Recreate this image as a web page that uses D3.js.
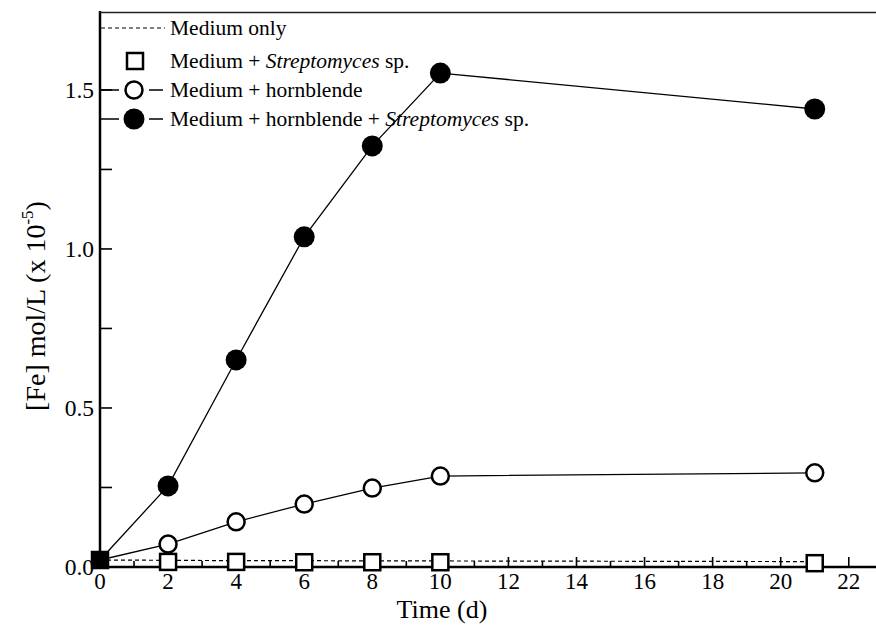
<!DOCTYPE html>
<html>
<head>
<meta charset="utf-8">
<script src="https://cdn.jsdelivr.net/npm/d3@7"></script>
<style>
  body { margin: 0; background: #fff; }
</style>
</head>
<body>
<div id="chart"></div>
<script>
// Days sampled
const days = [0, 2, 4, 6, 8, 10, 21];

// [Fe] in mol/L x 10^-5
const mediumOnly = [0.022, 0.021, 0.020, 0.020, 0.019, 0.019, 0.017];
const mediumStrep = [0.022, 0.016, 0.016, 0.015, 0.015, 0.015, 0.012];
const mediumHorn = [0.022, 0.072, 0.142, 0.198, 0.248, 0.286, 0.296];
const mediumHornStrep = [0.022, 0.255, 0.651, 1.038, 1.324, 1.553, 1.44];

const xTicks = [0, 2, 4, 6, 8, 10, 12, 14, 16, 18, 20, 22];
const yTicks = [0, 0.5, 1.0, 1.5];

const legendLabels = ["Medium only", "Medium + Streptomyces sp.", "Medium + hornblende", "Medium + hornblende + Streptomyces sp."];

const width = 876, height = 635;
const serif = "Liberation Serif, Times New Roman, DejaVu Serif, serif";
const svg = d3.select("#chart").append("svg")
    .attr("width", width)
    .attr("height", height)
    .style("font-family", serif);

const x = d3.scaleLinear().domain([0, 22.8]).range([100, 876]);
const y = d3.scaleLinear().domain([0, 1.745]).range([567, 12]);

// frame: left axis and top line
svg.append("line")
    .attr("x1", 100).attr("x2", 100)
    .attr("y1", 11).attr("y2", 568)
    .attr("stroke", "#000").attr("stroke-width", 2.5);
svg.append("line")
    .attr("x1", 99).attr("x2", 876)
    .attr("y1", 12.5).attr("y2", 12.5)
    .attr("stroke", "#222").attr("stroke-width", 1.6);

// x axis (ticks pointing up)
const xAxis = svg.append("g").attr("transform", `translate(0,${y(0)})`);
xAxis.append("line")
    .attr("x1", 99).attr("x2", 876)
    .attr("stroke", "#000").attr("stroke-width", 2.5);
xAxis.selectAll(".xt")
    .data(d3.range(1, 23))
    .join("line")
    .attr("x1", d => x(d)).attr("x2", d => x(d))
    .attr("y1", 0).attr("y2", d => d % 2 === 0 ? -10 : -6)
    .attr("stroke", "#000").attr("stroke-width", 1.6);
xAxis.selectAll(".xl")
    .data(xTicks)
    .join("text")
    .attr("x", d => x(d))
    .attr("y", 22)
    .attr("text-anchor", "middle")
    .attr("font-size", 23)
    .text(d => d);

// y axis (ticks pointing right)
const yAxis = svg.append("g");
yAxis.selectAll(".yt")
    .data([0.25, 0.5, 0.75, 1.0, 1.25, 1.5])
    .join("line")
    .attr("x1", 100).attr("x2", 112)
    .attr("y1", d => y(d)).attr("y2", d => y(d))
    .attr("stroke", "#000").attr("stroke-width", 1.6);
yAxis.selectAll(".yl")
    .data(yTicks)
    .join("text")
    .attr("x", 94)
    .attr("y", d => y(d) + 8)
    .attr("text-anchor", "end")
    .attr("font-size", 23.5)
    .text(d => d.toFixed(1));

// axis titles
svg.append("text")
    .attr("x", 442).attr("y", 618)
    .attr("text-anchor", "middle")
    .attr("font-size", 26)
    .text("Time (d)");

const yTitle = svg.append("text")
    .attr("transform", "translate(45,306) rotate(-90)")
    .attr("text-anchor", "middle")
    .attr("font-size", 28);
yTitle.append("tspan").text("[Fe] mol/L (x 10");
yTitle.append("tspan").attr("font-size", 17).attr("dy", -12).text("-5");
yTitle.append("tspan").attr("dy", 12).text(")");

// data lines
const pts = vals => days.map((d, i) => [d, vals[i]]);
const line = d3.line().x(d => x(d[0])).y(d => y(d[1]));

svg.append("path")
    .attr("d", line(pts(mediumOnly)))
    .attr("fill", "none").attr("stroke", "#000")
    .attr("stroke-width", 1.2).attr("stroke-dasharray", "4,3");
svg.append("path")
    .attr("d", line(pts(mediumHorn)))
    .attr("fill", "none").attr("stroke", "#000").attr("stroke-width", 1.3);
svg.append("path")
    .attr("d", line(pts(mediumHornStrep)))
    .attr("fill", "none").attr("stroke", "#000").attr("stroke-width", 1.3);

// markers
svg.selectAll(".sq")
    .data(pts(mediumStrep))
    .join("rect")
    .attr("x", d => x(d[0]) - 8).attr("y", d => y(d[1]) - 8)
    .attr("width", 16).attr("height", 16)
    .attr("fill", (d, i) => i === 0 ? "#000" : "#fff")
    .attr("stroke", "#000").attr("stroke-width", 2.5);
svg.selectAll(".oc")
    .data(pts(mediumHorn).slice(1))
    .join("circle")
    .attr("cx", d => x(d[0])).attr("cy", d => y(d[1]))
    .attr("r", 8.5)
    .attr("fill", "#fff").attr("stroke", "#000").attr("stroke-width", 2.5);
svg.selectAll(".fc")
    .data(pts(mediumHornStrep).slice(1))
    .join("circle")
    .attr("cx", d => x(d[0])).attr("cy", d => y(d[1]))
    .attr("r", 10.5)
    .attr("fill", "#000");

// legend
const lg = svg.append("g");
const rowY = [28, 61, 90, 119];
lg.append("line")
    .attr("x1", 101).attr("x2", 165).attr("y1", rowY[0]).attr("y2", rowY[0])
    .attr("stroke", "#000").attr("stroke-width", 1.2).attr("stroke-dasharray", "4,3");
lg.append("rect")
    .attr("x", 127).attr("y", rowY[1] - 8).attr("width", 16).attr("height", 16)
    .attr("fill", "#fff").attr("stroke", "#000").attr("stroke-width", 2.5);
[2, 3].forEach(k => {
    lg.append("line").attr("x1", 101).attr("x2", 163)
        .attr("y1", rowY[k]).attr("y2", rowY[k])
        .attr("stroke", "#000").attr("stroke-width", 1.5);
});
lg.append("rect").attr("x", 119).attr("y", rowY[2] - 10).attr("width", 30).attr("height", 20).attr("fill", "#fff");
lg.append("rect").attr("x", 119).attr("y", rowY[3] - 12).attr("width", 30).attr("height", 24).attr("fill", "#fff");
lg.append("circle").attr("cx", 134).attr("cy", rowY[2]).attr("r", 8.5)
    .attr("fill", "#fff").attr("stroke", "#000").attr("stroke-width", 2.5);
lg.append("circle").attr("cx", 134).attr("cy", rowY[3]).attr("r", 10.5).attr("fill", "#000");

const lt = lg.selectAll(".lt")
    .data(legendLabels)
    .join("text")
    .attr("x", 170)
    .attr("y", (d, i) => rowY[i] + 7)
    .attr("font-size", 21.5);
lt.each(function(d) {
    const t = d3.select(this);
    const parts = d.split("Streptomyces");
    parts.forEach((p, j) => {
        if (j > 0) t.append("tspan").attr("font-style", "italic").text("Streptomyces");
        t.append("tspan").text(p);
    });
});
</script>
</body>
</html>
